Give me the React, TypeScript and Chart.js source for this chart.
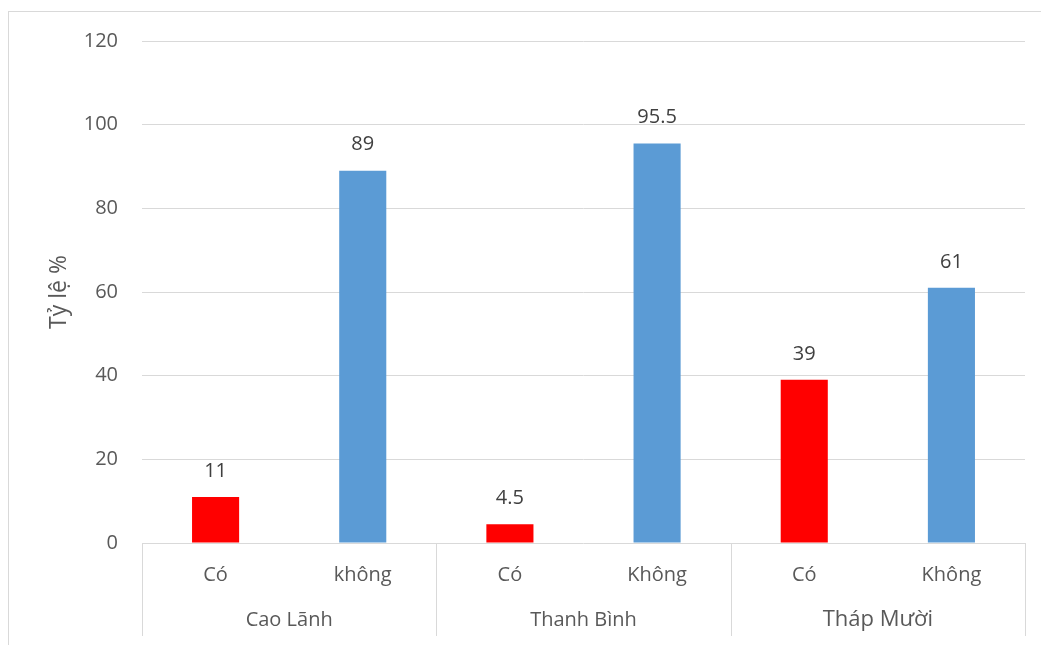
import React, { useEffect, useRef } from "react";
import { Chart, registerables } from "chart.js";

Chart.register(...registerables);

const categories = ["Có", "không", "Có", "Không", "Có", "Không"];
const values = [11, 89, 4.5, 95.5, 39, 61];
const groups = ["Cao Lãnh", "Thanh Bình", "Tháp Mười"];
const groupSizes = [2, 2, 2];
const yMin = 0;
const yMax = 120;
const yStep = 20;
const axisTitle = "Tỷ lệ %";

const RED = "#FF0000";
const BLUE = "#5B9BD5";
const barColors = [RED, BLUE, RED, BLUE, RED, BLUE];
const FONT = "'Open Sans', sans-serif";
const TEXT = "#595959";
const GRID = "#D9D9D9";

const groupPlugin = {
  id: "groupLabels",
  afterDraw(chart: any) {
    const ctx = chart.ctx;
    const x = chart.scales.x;
    const y = chart.scales.y;
    const n = categories.length;
    const step = (x.right - x.left) / n;
    ctx.save();
    // data labels
    ctx.fillStyle = "#404040";
    ctx.textAlign = "center";
    ctx.textBaseline = "middle";
    ctx.font = `20px ${FONT}`;
    values.forEach((v, i) => {
      ctx.fillText(String(v), x.getPixelForValue(i), y.getPixelForValue(v) - 26);
    });
    // category labels
    ctx.fillStyle = TEXT;
    categories.forEach((c, i) => {
      ctx.fillText(c, x.getPixelForValue(i), y.bottom + 32);
    });
    // group boundaries
    const bounds = [0];
    let acc = 0;
    groupSizes.forEach((s) => {
      acc += s;
      bounds.push(acc);
    });
    ctx.strokeStyle = GRID;
    ctx.lineWidth = 1;
    bounds.forEach((b) => {
      const px = Math.round(x.left + b * step) + 0.5;
      ctx.beginPath();
      ctx.moveTo(px, y.bottom);
      ctx.lineTo(px, y.bottom + 93);
      ctx.stroke();
    });
    groups.forEach((g, i) => {
      const cx = x.left + ((bounds[i] + bounds[i + 1]) / 2) * step;
      ctx.font = i === groups.length - 1 ? `22px ${FONT}` : `20px ${FONT}`;
      ctx.fillText(g, cx, y.bottom + 77);
    });
    ctx.restore();
  },
};

export default function App() {
  const ref = useRef<HTMLCanvasElement>(null);
  useEffect(() => {
    if (!ref.current) return;
    const chart = new Chart(ref.current, {
      type: "bar",
      data: {
        labels: categories,
        datasets: [
          {
            data: values,
            backgroundColor: barColors,
            borderWidth: 0,
            barPercentage: 0.32,
            categoryPercentage: 1,
          },
        ],
      },
      options: {
        responsive: false,
        animation: false,
        layout: { padding: { left: 0, top: 29, right: 16, bottom: 0 } },
        plugins: {
          legend: { display: false },
          tooltip: { enabled: false },
        },
        scales: {
          x: {
            ticks: { display: false },
            grid: { display: false },
            border: { display: false },
            afterFit: (s: any) => {
              s.height = 102;
            },
          },
          y: {
            min: yMin,
            max: yMax,
            ticks: {
              stepSize: yStep,
              color: TEXT,
              font: { family: FONT, size: 20 },
              padding: 24,
            },
            grid: { color: GRID, lineWidth: 1, drawTicks: false },
            border: { display: false },
            title: {
              display: true,
              text: axisTitle,
              color: TEXT,
              font: { family: FONT, size: 23 },
              padding: { top: 37, bottom: 0 },
            },
            afterFit: (s: any) => {
              s.width = 133;
              s.paddingTop = 0;
              s.paddingBottom = 0;
            },
          },
        },
      },
      plugins: [groupPlugin],
    });
    return () => chart.destroy();
  }, []);
  return (
    <div
      style={{
        position: "absolute",
        left: 8,
        top: 11,
        width: 1033,
        height: 634,
        borderTop: `1px solid ${GRID}`,
        borderLeft: `1px solid ${GRID}`,
        overflow: "hidden",
        background: "#fff",
      }}
    >
      <canvas ref={ref} width={1032} height={633} style={{ display: "block" }} />
    </div>
  );
}
